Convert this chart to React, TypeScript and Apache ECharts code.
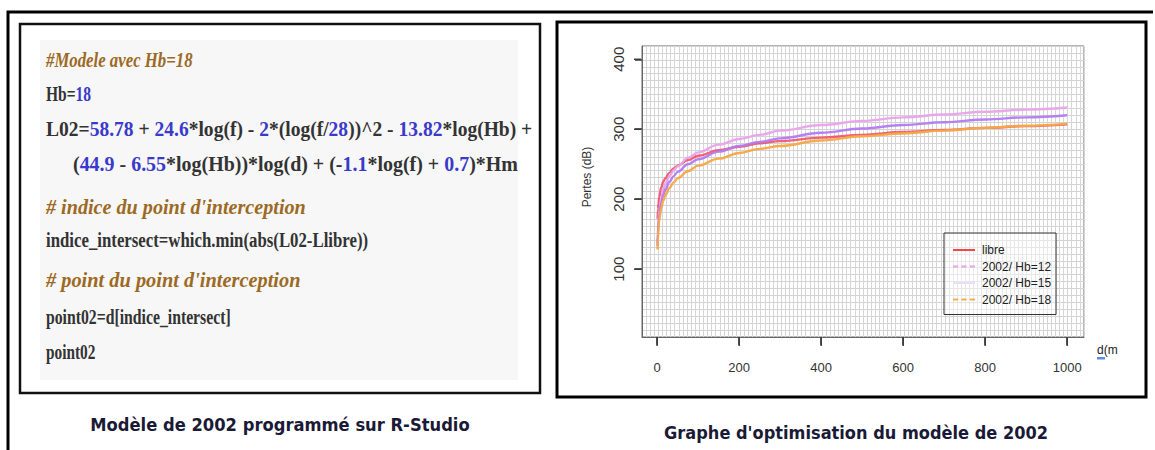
import React, { useEffect, useRef } from "react";
import * as echarts from "echarts";

// Distance (m)
const DIST = [1, 2, 3, 5, 10, 15, 20, 30, 40, 50, 75, 100, 150, 200, 250, 300, 400, 500, 600, 700, 800, 900, 1000];
// Pertes (dB)
const LIBRE = [172, 186, 193, 203, 217, 225, 230, 238, 244, 248, 256, 262, 270, 275, 280, 283, 288, 292, 296, 299, 302, 304.5, 307];
const HB12 = [138, 157, 169, 183, 202, 214, 222, 233, 241, 247, 259, 267, 278, 286, 292, 298, 306, 312, 317, 321, 325, 328, 331];
const HB15 = [133, 152, 163, 176, 195, 206, 214, 225, 233, 239, 250, 257, 268, 276, 282, 287, 295, 301, 306, 310, 314, 317, 320];
const HB18 = [128, 146, 157, 170, 188, 198, 206, 216, 224, 230, 240, 248, 258, 266, 272, 276, 284, 290, 294, 298, 302, 305, 308];

const SERIES_NAMES = ["libre", "2002/ Hb=12", "2002/ Hb=15", "2002/ Hb=18"];
const X_TICKS = [0, 200, 400, 600, 800, 1000];
const Y_TICKS = [100, 200, 300, 400];
const X_RANGE = [-37, 1041];
const Y_RANGE = [3, 419];

// R code shown on the left: [text, kind] kind c = code, n = number, k = comment
const CODE_LINES: { x: number; y: number; sx: number; segs: [string, string][] }[] = [
  { x: 46, y: 60, sx: 0.8, segs: [["#Modele avec Hb=18", "k"]] },
  { x: 46, y: 94, sx: 0.74, segs: [["Hb=", "c"], ["18", "n"]] },
  {
    x: 46,
    y: 129,
    sx: 0.93,
    segs: [
      ["L02=", "c"], ["58.78", "n"], [" + ", "c"], ["24.6", "n"], ["*log(f) - ", "c"], ["2", "n"],
      ["*(log(f/", "c"], ["28", "n"], ["))^2 - ", "c"], ["13.82", "n"], ["*log(Hb) +", "c"],
    ],
  },
  {
    x: 73,
    y: 164,
    sx: 0.95,
    segs: [
      ["(", "c"], ["44.9", "n"], [" - ", "c"], ["6.55", "n"], ["*log(Hb))*log(d) + (-", "c"], ["1.1", "n"],
      ["*log(f) + ", "c"], ["0.7", "n"], [")*Hm", "c"],
    ],
  },
  { x: 46, y: 207, sx: 0.96, segs: [["# indice du point d'interception", "k"]] },
  { x: 46, y: 240, sx: 0.8, segs: [["indice_intersect=which.min(abs(L02-Llibre))", "c"]] },
  { x: 46, y: 280, sx: 0.97, segs: [["# point du point d'interception", "k"]] },
  { x: 46, y: 317, sx: 0.75, segs: [["point02=d[indice_intersect]", "c"]] },
  { x: 46, y: 352, sx: 0.73, segs: [["point02", "c"]] },
];

const CODE_FONT = "Liberation Serif";

function buildGraphics(): any[] {
  const richBase = { fontFamily: CODE_FONT, fontSize: 21, fontWeight: "bold" };
  const codeTexts = CODE_LINES.map((ln) => ({
    type: "text",
    x: ln.x,
    y: ln.y,
    scaleX: ln.sx,
    style: {
      text: ln.segs.map(([t, k]) => `{${k}|${t}}`).join(""),
      verticalAlign: "middle",
      align: "left",
      ...richBase,
      rich: {
        c: { ...richBase, fill: "#333333" },
        n: { ...richBase, fill: "#3a3acb" },
        k: { ...richBase, fill: "#9c6a24", fontStyle: "italic" },
      },
    },
  }));
  const captionStyle = {
    align: "center",
    verticalAlign: "middle",
    fontSize: 17,
    fontWeight: "bold",
    fontFamily: "DejaVu Sans Condensed",
    fill: "#1a1a36",
  };
  return [
    {
      type: "polyline",
      silent: true,
      shape: { points: [[8, 450], [8, 12], [1153, 12]] },
      style: { stroke: "#000", lineWidth: 3, fill: "none" },
    },
    {
      type: "rect",
      silent: true,
      shape: { x: 20, y: 24, width: 520, height: 369 },
      style: { fill: "#fff", stroke: "#111", lineWidth: 2.5 },
    },
    {
      type: "rect",
      silent: true,
      shape: { x: 40, y: 40, width: 478, height: 340 },
      style: { fill: "#f7f7f7" },
    },
    ...codeTexts,
    {
      type: "rect",
      silent: true,
      shape: { x: 557, y: 22, width: 589, height: 375 },
      style: { fill: "none", stroke: "#000", lineWidth: 3 },
    },
    {
      type: "text",
      x: 587,
      y: 177,
      rotation: Math.PI / 2,
      style: {
        text: "Pertes (dB)",
        align: "center",
        verticalAlign: "middle",
        fontSize: 12,
        fontFamily: "Liberation Sans",
        fill: "#333",
      },
    },
    {
      type: "text",
      x: 1097,
      y: 350,
      style: { text: "d(m", align: "left", verticalAlign: "middle", fontSize: 12, fontFamily: "Liberation Sans", fill: "#222" },
    },
    {
      type: "rect",
      shape: { x: 1097, y: 357, width: 8, height: 2.5 },
      style: { fill: "#5b8de0" },
    },
    {
      type: "text",
      x: 280,
      y: 425,
      scaleX: 1.07,
      style: { ...captionStyle, text: "Modèle de 2002 programmé sur R-Studio" },
    },
    {
      type: "text",
      x: 856,
      y: 433,
      scaleX: 1.06,
      style: { ...captionStyle, text: "Graphe d'optimisation du modèle de 2002" },
    },
  ];
}

function buildOption() {
  const pairs = (arr: number[]) => DIST.map((d, i) => [d, arr[i]]);
  const seriesColors = ["#ee4a5e", "#eaa2ec", "#b27af2", "#f5a843"];
  const solidIcon = "path://M0,0H22V2H0Z";
  const dashIcon = "path://M0,0H5V2H0Z M8,0H13V2H8Z M16,0H21V2H16Z";
  const legendStyles = [
    { color: "#f04848", icon: solidIcon },
    { color: "#e8a0e8", icon: dashIcon },
    { color: "#ecdcf8", icon: solidIcon },
    { color: "#f0b050", icon: dashIcon },
  ];
  const datasets = [LIBRE, HB12, HB15, HB18];
  const tickStyle = { stroke: "#3a3a3a", lineWidth: 1.5, fill: "none" };

  const lineSeries = datasets.map((arr, i) => ({
    name: SERIES_NAMES[i],
    type: "line",
    xAxisIndex: 0,
    yAxisIndex: 0,
    data: pairs(arr),
    symbol: "none",
    showSymbol: false,
    smooth: 0.4,
    smoothMonotone: "x",
    lineStyle: { color: seriesColors[i], width: 2.4, opacity: i === 0 ? 0.85 : 0.95 },
    itemStyle: { color: seriesColors[i] },
    z: 3 + i,
  }));

  // R-style outward ticks, positioned through the axes' scales
  const tickSeries = [
    {
      type: "custom",
      name: "xticks",
      xAxisIndex: 0,
      yAxisIndex: 0,
      silent: true,
      clip: false,
      z: 20,
      data: X_TICKS.map((v) => [v, Y_RANGE[0]]),
      renderItem: (_p: any, api: any) => {
        const pt = api.coord([api.value(0), api.value(1)]);
        return { type: "line", shape: { x1: pt[0], y1: pt[1] + 1, x2: pt[0], y2: pt[1] + 9 }, style: tickStyle };
      },
    },
    {
      type: "custom",
      name: "yticks",
      xAxisIndex: 0,
      yAxisIndex: 0,
      silent: true,
      clip: false,
      z: 20,
      data: Y_TICKS.map((v) => [X_RANGE[0], v]),
      renderItem: (_p: any, api: any) => {
        const pt = api.coord([api.value(0), api.value(1)]);
        return { type: "line", shape: { x1: pt[0] - 8, y1: pt[1], x2: pt[0] - 1, y2: pt[1] }, style: tickStyle };
      },
    },
  ];

  return {
    animation: false,
    backgroundColor: "#ffffff",
    grid: {
      left: 642,
      top: 46,
      width: 442,
      height: 291,
      show: true,
      borderColor: "#666",
      borderWidth: 1,
      backgroundColor: "transparent",
    },
    xAxis: [
      {
        type: "value",
        min: X_RANGE[0],
        max: X_RANGE[1],
        position: "bottom",
        axisLine: { show: true, onZero: false, lineStyle: { color: "#666", width: 1 } },
        axisTick: { show: true, inside: false, length: 8, customValues: X_TICKS, lineStyle: { color: "#3a3a3a", width: 1.5 } },
        axisLabel: {
          customValues: X_TICKS,
          margin: 24,
          color: "#333",
          fontSize: 13,
          fontFamily: "Liberation Sans",
          formatter: (v: number) => String(v),
        },
        splitLine: { show: false },
        z: 10,
      },
      {
        type: "value",
        min: -40,
        max: 1040,
        interval: 10,
        position: "top",
        axisLine: { show: false, onZero: false },
        axisTick: { show: false },
        axisLabel: { show: false },
        splitLine: { show: true, lineStyle: { color: "#d6d6d6", width: 1 } },
      },
    ],
    yAxis: [
      {
        type: "value",
        min: Y_RANGE[0],
        max: Y_RANGE[1],
        position: "left",
        axisLine: { show: true, onZero: false, lineStyle: { color: "#666", width: 1 } },
        axisTick: { show: true, inside: false, length: 7, customValues: Y_TICKS, lineStyle: { color: "#3a3a3a", width: 1.5 } },
        axisLabel: {
          customValues: Y_TICKS,
          rotate: 90,
          margin: 16,
          color: "#333",
          fontSize: 15,
          fontFamily: "Liberation Sans",
        },
        splitLine: { show: false },
        z: 10,
      },
      {
        type: "value",
        min: 0,
        max: 420,
        interval: 10,
        position: "right",
        axisLine: { show: false, onZero: false },
        axisTick: { show: false },
        axisLabel: { show: false },
        splitLine: { show: true, lineStyle: { color: "#d2d2d2", width: 1 } },
      },
    ],
    legend: {
      orient: "vertical",
      left: 944,
      top: 233,
      itemWidth: 22,
      itemHeight: 2.5,
      itemGap: 2.5,
      padding: [10, 5, 8, 9],
      borderColor: "#333",
      borderWidth: 1,
      backgroundColor: "rgba(255,255,255,0.45)",
      selectedMode: false,
      textStyle: { fontSize: 12, lineHeight: 14, color: "#222", fontFamily: "Liberation Sans", padding: [0, 0, 0, 2] },
      data: SERIES_NAMES.map((name, i) => ({
        name,
        icon: legendStyles[i].icon,
        itemStyle: { color: legendStyles[i].color, borderWidth: 0 },
      })),
    },
    series: [...lineSeries, ...tickSeries],
    graphic: buildGraphics(),
  };
}

export default function App() {
  const ref = useRef<HTMLDivElement>(null);
  useEffect(() => {
    if (!ref.current) return;
    const chart = echarts.init(ref.current, undefined, { renderer: "svg" });
    chart.setOption(buildOption() as any);
    return () => chart.dispose();
  }, []);
  return (
    <div
      ref={ref}
      style={{ position: "fixed", left: 0, top: 0, width: 1155, height: 450, background: "#fff" }}
    />
  );
}
